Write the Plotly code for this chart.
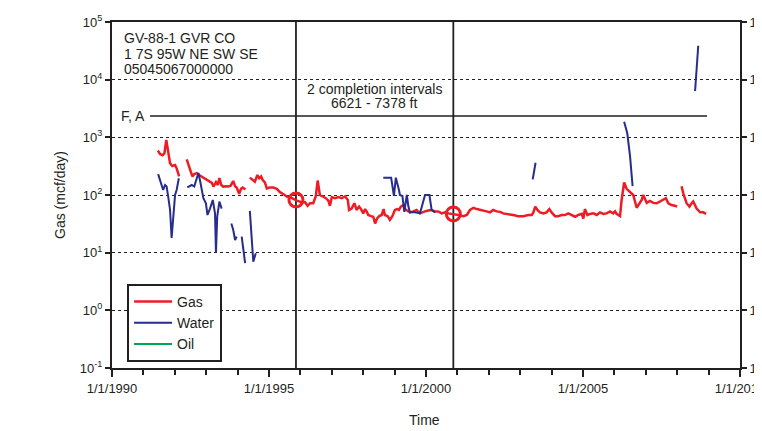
import plotly.graph_objects as go
from datetime import datetime, timedelta

# production history, time as decimal year, None = gap in record
gas_t = [1991.46, 1991.53, 1991.61, 1991.67, 1991.73, 1991.79, 1991.85, 1991.92, 1992.01, 1992.06, 1992.14, None,
         1992.38, 1992.48, 1992.56, 1992.62, 1992.70, 1992.80, 1992.91, 1992.99, 1993.10, 1993.18, 1993.23, 1993.31,
         1993.37, 1993.42, 1993.48, 1993.54, 1993.63, 1993.70, 1993.78, 1993.86, 1993.92, 1993.97, 1994.05, 1994.11,
         1994.16, 1994.25, None,
         1994.39, 1994.47, 1994.55, 1994.63, 1994.69, 1994.75, 1994.80, 1994.87, 1994.93, 1995.03, 1995.14, 1995.25,
         1995.35, 1995.45, 1995.57, 1995.70, 1995.80, 1995.89, 1996.04, 1996.15, 1996.23, 1996.31, 1996.41, 1996.49,
         1996.55, 1996.62, 1996.70, 1996.81, 1996.89, 1996.94, 1997.00, 1997.10, 1997.21, 1997.32, 1997.42, 1997.51,
         1997.55, 1997.63, 1997.72, 1997.79, 1997.87, 1997.93, 1998.00, 1998.06, 1998.11, 1998.16, 1998.25, 1998.32,
         1998.38, 1998.44, 1998.51, 1998.59, 1998.65, 1998.69, 1998.78, 1998.85, 1998.93, 1999.01, 1999.08, 1999.14,
         1999.20, 1999.28, 1999.33, 1999.42, 1999.49, 1999.60, 1999.70, 1999.81, 1999.88, 1999.97, 2000.07, 2000.18,
         2000.29, 2000.39, 2000.50, 2000.61, 2000.71, 2000.87, 2001.03, 2001.19, 2001.30, 2001.40, 2001.51, 2001.62,
         2001.77, 2001.93, 2002.04, 2002.14, 2002.25, 2002.36, 2002.46, 2002.62, 2002.78, 2002.94, 2003.10, 2003.26,
         2003.37, 2003.42, 2003.48, 2003.55, 2003.63, 2003.74, 2003.84, 2003.93, 2004.00, 2004.11, 2004.21, 2004.32,
         2004.43, 2004.53, 2004.64, 2004.75, 2004.85, 2004.96, 2005.01, 2005.06, 2005.14, 2005.22, 2005.33, 2005.44,
         2005.54, 2005.65, 2005.75, 2005.86, 2005.96, 2006.02, 2006.07, 2006.18, 2006.23, 2006.31, 2006.39, 2006.50,
         2006.60, 2006.71, 2006.80, 2006.87, 2006.92, 2007.03, 2007.13, 2007.24, 2007.35, 2007.45, 2007.56, 2007.64,
         2007.72, 2007.82, 2007.93, 2008.00, None,
         2008.14, 2008.20, 2008.30, 2008.39, 2008.46, 2008.51, 2008.62, 2008.73, 2008.83, 2008.92]
gas_v = [590, 515, 488, 528, 900, 565, 355, 318, 331, 290, 210, None,
         415, 271, 210, 230, 240, 218, 200, 190, 175, 162, 140, 167,
         149, 196, 149, 140, 142, 140, 145, 175, 142, 135, 105, 128,
         135, 125, None,
         200, 182, 170, 222, 195, 210, 182, 165, 130, 135, 135, 128,
         112, 104, 94, 90, 84, 80, 75, 75, 65, 72, 72, 95,
         178, 100, 95, 88, 80, 65, 92, 88, 92, 88, 95, 82,
         55, 58, 72, 55, 63, 57, 48, 57, 52, 45, 43, 42,
         32, 39, 43, 45, 57, 45, 43, 37, 43, 55, 57, 55,
         63, 67, 57, 52, 50, 52, 55, 48, 50, 52, 54, 55,
         52, 52, 48, 50, 48, 47, 45, 43, 45, 55, 60, 57,
         55, 52, 50, 55, 52, 51, 48, 47, 45, 43, 43, 45,
         45, 50, 63, 55, 50, 48, 50, 57, 50, 43, 43, 45,
         45, 48, 45, 42, 45, 47, 39, 57, 45, 47, 48, 45,
         50, 47, 48, 52, 48, 52, 47, 43, 82, 165, 128, 112,
         100, 60, 73, 82, 100, 73, 79, 73, 72, 77, 82, 88,
         72, 67, 65, 63, None,
         142, 105, 72, 63, 72, 77, 58, 50, 50, 47]

water_t = [1991.47, 1991.53, 1991.58, 1991.63, 1991.69, 1991.74, 1991.79, 1991.85, 1991.90, 1991.95, 1992.01, 1992.06,
           1992.13, None,
           1992.40, 1992.54, 1992.62, 1992.70, 1992.75, 1992.80, 1992.86, 1992.91, 1992.99, 1993.04, 1993.12, 1993.21,
           1993.28, 1993.31, 1993.35, 1993.39, 1993.42, 1993.49, None,
           1993.80, 1993.86, 1993.92, 1993.97, None,
           1994.13, 1994.18, 1994.24, None,
           1994.39, 1994.45, 1994.50, 1994.58, None,
           1998.64, 1998.89, 1998.98, 1999.04, 1999.14, 1999.17, 1999.25, 1999.31, 1999.39, 1999.44, 1999.49, 1999.65,
           1999.81, 1999.91, 1999.97, 2000.11, 2000.18, 2000.29, None,
           2003.40, 2003.49, None,
           2006.31, 2006.41, 2006.50, 2006.58, None,
           2008.57, 2008.67]
water_v = [230, 182, 140, 122, 149, 140, 95, 55, 18, 42, 100, 122,
           195, None,
           135, 149, 140, 210, 240, 182, 122, 88, 72, 45, 58, 82,
           48, 10, 42, 67, 77, 58, None,
           32, 25, 16.6, 19, None,
           19, 11, 6.6, None,
           53, 19, 7.0, 9.8, None,
           200, 200, 96, 200, 122, 100, 96, 51, 100, 63, 50, 50,
           48, 82, 100, 100, 55, 50, None,
           187, 363, None,
           1866, 1175, 462, 143, None,
           6360, 38800]

# completion events
completion_t = [1995.86, 2000.87]
completion_v = [82, 47]

# "F, A" reference level
fa_t = [1991.21, 2008.95]
fa_v = [2345, 2345]

well_lines = ["GV-88-1 GVR CO", "1 7S 95W NE SW SE", "05045067000000"]

decades = [-1, 0, 1, 2, 3, 4, 5]
decade_labels = ["10<sup>%d</sup>" % d for d in decades]


def to_date(y):
    if y is None:
        return None
    yr = int(y)
    start = datetime(yr, 1, 1)
    days = (datetime(yr + 1, 1, 1) - start).days
    return start + timedelta(days=(y - yr) * days)


ink = "#231f20"
red = "#ee1c25"
blue = "#262d8c"
green = "#00a651"

fig = go.Figure()

fig.add_trace(go.Scatter(x=[to_date(t) for t in gas_t], y=gas_v, mode="lines", name="Gas",
                         line=dict(color=red, width=2.5)))
fig.add_trace(go.Scatter(x=[to_date(t) for t in water_t], y=water_v, mode="lines", name="Water",
                         line=dict(color=blue, width=2)))
fig.add_trace(go.Scatter(x=[None], y=[None], mode="lines", name="Oil",
                         line=dict(color=green, width=2)))
fig.add_trace(go.Scatter(x=[to_date(t) for t in fa_t], y=fa_v, mode="lines", showlegend=False,
                         line=dict(color=ink, width=1.3), hoverinfo="skip"))
fig.add_trace(go.Scatter(x=[to_date(t) for t in completion_t], y=completion_v, mode="markers", showlegend=False,
                         marker=dict(symbol="circle-open", size=14, color=red, line=dict(width=3))))
# dummy trace so right axis is drawn
fig.add_trace(go.Scatter(x=[None], y=[None], yaxis="y2", showlegend=False, hoverinfo="skip"))

for t in completion_t:
    fig.add_shape(type="line", xref="x", yref="paper", x0=to_date(t), x1=to_date(t), y0=0, y1=1,
                  line=dict(color=ink, width=1.8), layer="below")

annotations = []
for i, txt in enumerate(well_lines):
    annotations.append(dict(text=txt, x=0.0159, y=[0.955, 0.9075, 0.864][i], xref="paper", yref="paper",
                            xanchor="left", yanchor="middle", showarrow=False, font=dict(size=14)))
annotations += [
    dict(text="2 completion intervals", x=0.418, y=0.806, xref="paper", yref="paper",
         xanchor="center", yanchor="middle", showarrow=False, font=dict(size=14)),
    dict(text="6621 - 7378 ft", x=0.418, y=0.766, xref="paper", yref="paper",
         xanchor="center", yanchor="middle", showarrow=False, font=dict(size=14)),
    dict(text="F, A", x=0.0557, y=0.728, xref="paper", yref="paper",
         xanchor="right", yanchor="middle", showarrow=False, font=dict(size=14)),
    dict(text="Gas (mcf/day)", x=-0.0828, y=0.5, xref="paper", yref="paper", textangle=-90,
         xanchor="center", yanchor="middle", showarrow=False, font=dict(size=14)),
    dict(text="Time", x=0.497, y=-0.150, xref="paper", yref="paper",
         xanchor="center", yanchor="middle", showarrow=False, font=dict(size=14)),
]

yax = dict(type="log", range=[-1, 5], tickmode="array", tickvals=[10.0 ** d for d in decades],
           ticktext=decade_labels, automargin=False,
           ticks="outside", ticklen=5, tickwidth=2, tickcolor=ink,
           showline=True, linewidth=2, linecolor=ink, zeroline=False)

# the page body adds an 8px offset, margins compensate for it
fig.update_layout(
    width=762, height=431,
    margin=dict(l=104, r=30, t=14, b=71, autoexpand=False),
    plot_bgcolor="white", paper_bgcolor="white",
    font=dict(family="Liberation Sans, Arial, sans-serif", size=13, color=ink),
    xaxis=dict(type="date", range=[datetime(1990, 1, 1), datetime(2010, 1, 1)],
               tick0="1990-01-01", dtick="M60", tickformat="%-m/%-d/%Y", automargin=False,
               ticks="outside", ticklen=7, tickwidth=2, tickcolor=ink,
               showline=True, linewidth=2, linecolor=ink, mirror=True,
               showgrid=False, zeroline=False, ticklabeloverflow="allow",
               minor=dict(tick0="1990-01-01", dtick="M12", ticks="outside", ticklen=5,
                          tickwidth=2, tickcolor=ink, showgrid=False)),
    yaxis=dict(**yax, showgrid=True, gridcolor=ink, gridwidth=1, griddash="dot"),
    yaxis2=dict(**yax, overlaying="y", side="right", showgrid=False, ticklabeloverflow="allow"),
    legend=dict(x=0.024, y=0.243, xanchor="left", yanchor="top", bgcolor="white",
                bordercolor=ink, borderwidth=2, font=dict(size=14), tracegroupgap=0, itemwidth=38),
    annotations=annotations,
    showlegend=True,
)

fig.write_html("out.html")
